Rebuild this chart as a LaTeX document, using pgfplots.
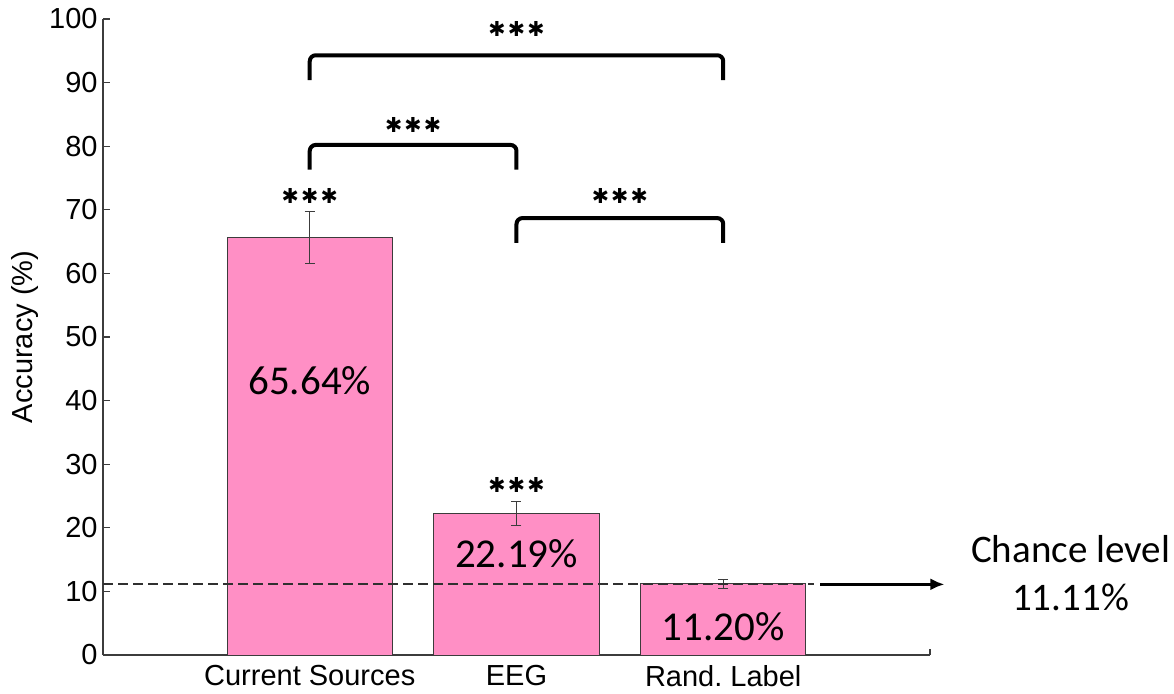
\documentclass[border=0pt]{standalone}
\usepackage{fontspec}
\setmainfont{Liberation Sans}
\newfontfamily\calfont{Carlito}
\newfontfamily\symfont{DejaVu Sans}
\usepackage{pgfplots}
\pgfplotsset{compat=1.18}
\usetikzlibrary{arrows.meta}
\definecolor{barpink}{RGB}{255,143,197}
\definecolor{axisgray}{RGB}{60,60,60}
\newcommand{\onestar}{\makebox[9.7pt]{✱}}
\newcommand{\sig}{\onestar\onestar\onestar}
\begin{document}
\begin{tikzpicture}
\useasboundingbox (0,0) rectangle (587pt,346.5pt);
\begin{axis}[
  at={(51.5pt,19pt)}, anchor=south west,
  scale only axis, width=413.5pt, height=318pt,
  xmin=0, xmax=4, ymin=0, ymax=100,
  axis x line*=bottom, axis y line*=left,
  axis line style={axisgray, line width=0.6pt},
  clip=false,
  font=\fontsize{14.5}{16}\selectfont,
  /pgf/number format/assume math mode=true,
  ytick={0,10,...,100},
  xtick={1,2,3},
  xticklabels={Current Sources, EEG, Rand.\ Label},
  tick align=inside,
  major tick length=3.5pt,
  tick style={axisgray, line width=0.6pt},
  xtick style={draw=none},
  yticklabel style={inner sep=0pt, xshift=-2.5pt},
  xticklabel style={inner sep=0pt, yshift=-5pt},
  ylabel={Accuracy (\%)},
  ylabel style={at={(axis description cs:-0.094,0.5)}, anchor=center},
]
% accuracy per input type, mean +- error
\addplot[ybar, bar width=0.8, fill=barpink, draw=axisgray, line width=0.5pt,
  error bars/.cd, y dir=both, y explicit,
  error bar style={line width=0.5pt, draw=axisgray},
  error mark options={line width=0.5pt, mark size=2.5pt, draw=axisgray, rotate=90}]
coordinates {(1,65.64) +- (0,4.1) (2,22.19) +- (0,1.9) (3,11.20) +- (0,0.7)};

% chance level
\addplot[axisgray!80!black, line width=1pt, dash pattern=on 5pt off 2.5pt]
  coordinates {(0,11.11) (3.44,11.11)};
\addplot[black, line width=1.5pt, -{Latex[length=7pt,width=6pt]}]
  coordinates {(3.47,11.11) (4.07,11.11)};

% right end of the x axis
\draw[axisgray, line width=0.6pt] (axis cs:4,0) -- ++(0,3pt);

% significance brackets
\draw[line width=2pt, rounded corners=3pt] (axis cs:1,90.4) -- (axis cs:1,94.3) -- (axis cs:3,94.3) -- (axis cs:3,90.4);
\draw[line width=2pt, rounded corners=3pt] (axis cs:1,76.3) -- (axis cs:1,80.2) -- (axis cs:2,80.2) -- (axis cs:2,76.3);
\draw[line width=2pt, rounded corners=3pt] (axis cs:2,64.8) -- (axis cs:2,68.7) -- (axis cs:3,68.7) -- (axis cs:3,64.8);

\tikzset{stars/.style={anchor=center, inner sep=0pt, font=\symfont\fontsize{10.3}{12}\selectfont}}
\node[stars] at (axis cs:2,98.4) {\sig};
\node[stars] at (axis cs:1.5,83.3) {\sig};
\node[stars] at (axis cs:2.5,72.2) {\sig};
\node[stars] at (axis cs:1,72.2) {\sig};
\node[stars] at (axis cs:2,26.7) {\sig};

\tikzset{pct/.style={inner sep=0pt, font=\calfont\fontsize{20.5}{24}\selectfont}}
\node[pct] at (axis cs:1,43.2) {65.64\%};
\node[pct] at (axis cs:2,16.0) {22.19\%};
\node[pct] at (axis cs:3,4.4) {11.20\%};

\node[pct, font=\calfont\fontsize{19.5}{24}\selectfont] at (axis cs:4.68,16.7) {Chance level};
\node[pct, font=\calfont\fontsize{19.5}{24}\selectfont] at (axis cs:4.68,9.0) {11.11\%};
\end{axis}
\end{tikzpicture}
\end{document}
